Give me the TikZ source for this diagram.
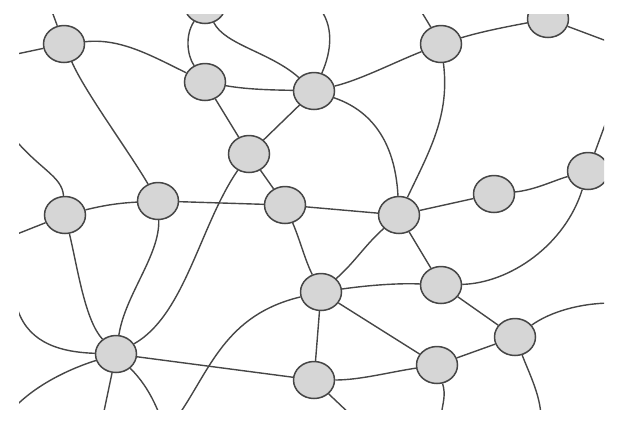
\documentclass[tikz,border=0pt]{standalone}
\usepackage{tikz}
\usetikzlibrary{shapes.geometric}
\definecolor{nodegray}{RGB}{214,214,214}
\definecolor{edgegray}{RGB}{70,70,70}
\begin{document}
\begin{tikzpicture}[x=1pt,y=-1pt]
\tikzstyle{every node}+=[inner sep=0pt]
\tikzstyle{vertex}=[ellipse,draw=edgegray,fill=nodegray,line width=1.5pt,minimum width=41pt,minimum height=37pt]
\tikzstyle{edge}=[draw=edgegray,line width=1.4pt]
\useasboundingbox (0,0) rectangle (628,432);
\clip (19,14) rectangle (604,409);
\node [vertex] (a) at (64,44) {};
\node [vertex] (b) at (205,5) {};
\node [vertex] (c) at (205,82) {};
\node [vertex] (d) at (314,91) {};
\node [vertex] (e) at (441,44) {};
\node [vertex] (f) at (548,19) {};
\node [vertex] (g) at (249,154) {};
\node [vertex] (h) at (65,215) {};
\node [vertex] (i) at (158,201) {};
\node [vertex] (j) at (285,205) {};
\node [vertex] (k) at (399,215) {};
\node [vertex] (l) at (494,194) {};
\node [vertex] (m) at (588,171) {};
\node [vertex] (n) at (321,292) {};
\node [vertex] (o) at (441,285) {};
\node [vertex] (p) at (515,337) {};
\node [vertex] (q) at (116,354) {};
\node [vertex] (r) at (314,380) {};
\node [vertex] (s) at (437,365) {};
\coordinate (t1) at (50,6);
\coordinate (t2) at (318,6);
\coordinate (t3) at (418,6);
\coordinate (l1) at (12,55);
\coordinate (l2) at (12,236);
\coordinate (l3) at (12,136);
\coordinate (l4) at (16,304);
\coordinate (l5) at (12,410);
\coordinate (r1) at (612,43);
\coordinate (r2) at (606,122);
\coordinate (r3) at (612,303);
\coordinate (b1) at (178,416);
\coordinate (b2) at (541,416);
\coordinate (b3) at (441,416);
\coordinate (b4) at (352,416);
\coordinate (b5) at (103,416);
\coordinate (b6) at (160,416);
\draw [edge] (a) -- (t1);
\draw [edge] (a) -- (l1);
\draw [edge] (a) .. controls (120,38) and (150,55) .. (c);
\draw [edge] (a) .. controls (85,92) and (128,150) .. (i);
\draw [edge] (b) .. controls (185,35) and (187,55) .. (c);
\draw [edge] (b) .. controls (225,45) and (270,52) .. (d);
\draw [edge] (c) .. controls (250,90) and (280,90) .. (d);
\draw [edge] (c) -- (g);
\draw [edge] (d) -- (g);
\draw [edge] (t2) .. controls (334,25) and (332,50) .. (d);
\draw [edge] (d) .. controls (360,80) and (395,62) .. (e);
\draw [edge] (d) .. controls (370,110) and (395,140) .. (k);
\draw [edge] (e) -- (t3);
\draw [edge] (e) .. controls (450,115) and (430,150) .. (k);
\draw [edge] (e) .. controls (480,32) and (505,27) .. (f);
\draw [edge] (f) -- (r1);
\draw [edge] (g) -- (j);
\draw [edge] (g) .. controls (200,225) and (185,315) .. (q);
\draw [edge] (h) .. controls (105,205) and (120,203) .. (i);
\draw [edge] (h) -- (l2);
\draw [edge] (l3) .. controls (40,170) and (62,176) .. (h);
\draw [edge] (h) .. controls (78,270) and (85,320) .. (q);
\draw [edge] (i) .. controls (160,255) and (125,295) .. (q);
\draw [edge] (i) -- (j);
\draw [edge] (j) .. controls (300,240) and (305,260) .. (n);
\draw [edge] (j) -- (k);
\draw [edge] (k) -- (l);
\draw [edge] (l) .. controls (535,190) and (555,180) .. (m);
\draw [edge] (m) -- (r2);
\draw [edge] (m) .. controls (565,245) and (510,283) .. (o);
\draw [edge] (k) .. controls (365,245) and (355,262) .. (n);
\draw [edge] (k) -- (o);
\draw [edge] (n) .. controls (370,285) and (400,283) .. (o);
\draw [edge] (n) -- (s);
\draw [edge] (n) -- (r);
\draw [edge] (n) .. controls (225,315) and (210,370) .. (b1);
\draw [edge] (o) -- (p);
\draw [edge] (p) -- (s);
\draw [edge] (s) .. controls (390,372) and (360,380) .. (r);
\draw [edge] (p) .. controls (550,312) and (580,303) .. (r3);
\draw [edge] (p) .. controls (530,375) and (540,395) .. (b2);
\draw [edge] (s) .. controls (446,395) and (443,402) .. (b3);
\draw [edge] (r) -- (b4);
\draw [edge] (q) -- (r);
\draw [edge] (l4) .. controls (25,340) and (55,352) .. (q);
\draw [edge] (q) .. controls (60,372) and (30,390) .. (l5);
\draw [edge] (q) -- (b5);
\draw [edge] (q) .. controls (142,380) and (152,395) .. (b6);
\end{tikzpicture}
\end{document}
